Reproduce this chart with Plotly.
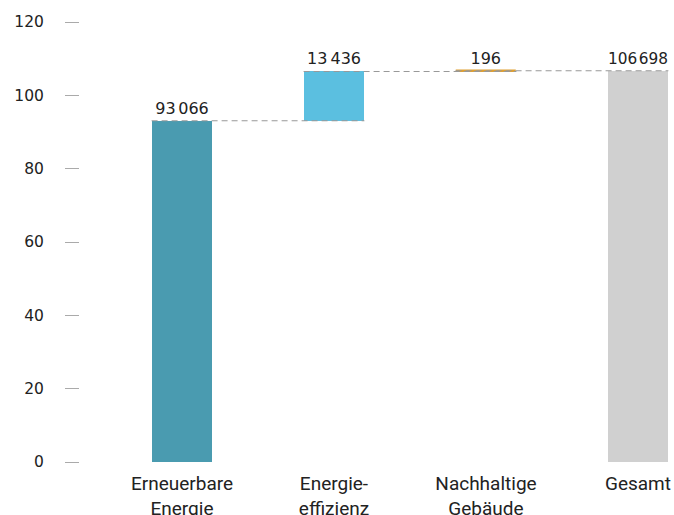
import plotly.graph_objects as go

categories = ["Erneuerbare<br>Energie", "Energie-<br>effizienz", "Nachhaltige<br>Gebäude", "Gesamt"]
values = [93.066, 13.436, 0.196]
total = 106.698
value_labels = ["93\u2006066", "13\u2009436", "196", "106\u200a698"]
colors = ["#4a9bb0", "#5bbfe0", "#e0a030", "#d0d0d0"]
y_ticks = [0, 20, 40, 60, 80, 100, 120]

# bases for waterfall
bases = []
run = 0.0
for v in values:
    bases.append(run)
    run += v
bases.append(0)
heights = values + [total]
tops = [b + h for b, h in zip(bases, heights)]
xs = list(range(len(categories)))
bw = 0.4

fig = go.Figure()
fig.add_trace(go.Bar(
    x=xs, y=heights, base=bases, width=bw,
    marker=dict(color=colors, line=dict(color=colors, width=[0, 0, 2.5, 0])),
    text=value_labels, textposition="outside", cliponaxis=False,
    textfont=dict(family="DejaVu Sans, sans-serif", size=16, color="#222222"),
    hoverinfo="skip", showlegend=False,
))

# connectors
for i in range(len(categories) - 1):
    level = tops[i]
    fig.add_trace(go.Scatter(
        x=[i - bw / 2, i + 1 + bw / 2], y=[level, level], mode="lines",
        line=dict(color="#999999", width=1.2, dash="6px,4px"),
        hoverinfo="skip", showlegend=False,
    ))

fig.update_layout(
    width=674, height=515,
    margin=dict(l=80, r=0, t=22, b=53),
    plot_bgcolor="white", paper_bgcolor="white",
    bargap=0,
    xaxis=dict(
        range=[-0.671, 3.237], tickvals=xs, ticktext=categories,
        showgrid=False, zeroline=False, showline=False, ticks="",
        tickfont=dict(family="Roboto, sans-serif", size=19, color="#222222"),
        ticklabelstandoff=8, automargin=False,
    ),
    yaxis=dict(
        range=[0, 120], tickvals=y_ticks,
        showgrid=False, zeroline=False, showline=False,
        ticks="outside", ticklen=14, tickcolor="#aaaaaa", tickwidth=1,
        ticklabelstandoff=18, automargin=False,
        tickfont=dict(family="DejaVu Sans, sans-serif", size=15.5, color="#222222"),
    ),
)

fig.write_html(
    "out.html",
    config={"displayModeBar": False},
    post_script="document.body.style.margin='0px';document.body.style.overflow='hidden';",
)
